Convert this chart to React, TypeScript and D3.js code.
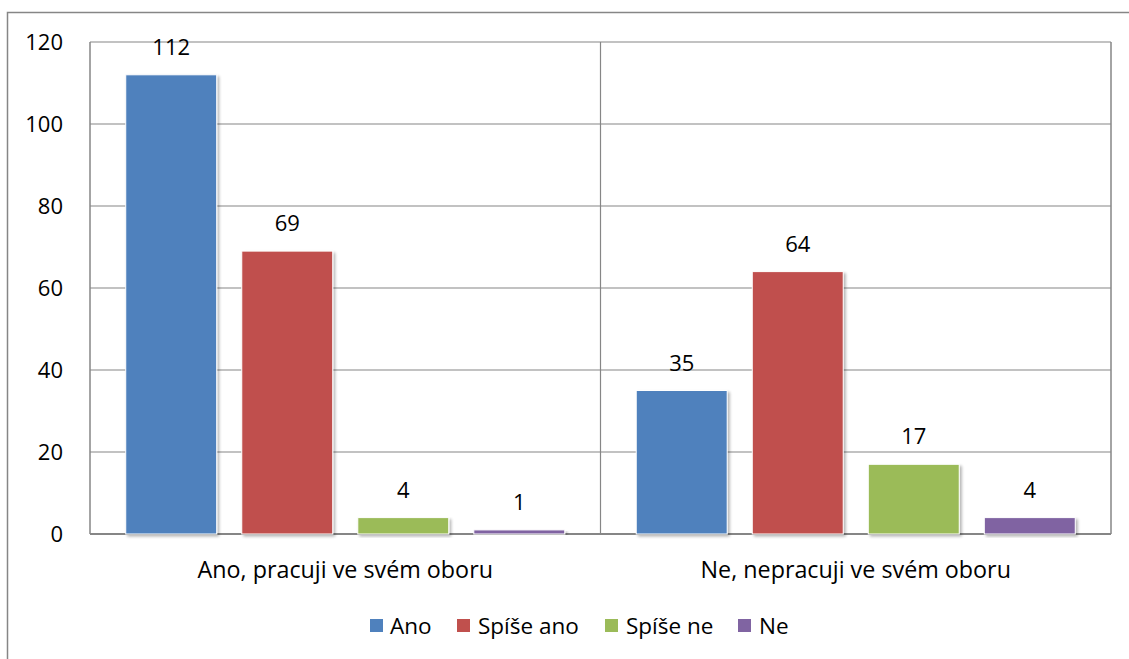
import * as React from 'react';
import { scaleBand, scaleLinear } from 'd3';

const categories = ['Ano, pracuji ve svém oboru', 'Ne, nepracuji ve svém oboru'];
const seriesNames = ['Ano', 'Spíše ano', 'Spíše ne', 'Ne'];
const seriesColors = ['#4F81BD', '#C0504D', '#9BBB59', '#8064A2'];
// values[series][category]
const values = [
    [112, 35],
    [69, 64],
    [4, 17],
    [1, 4],
];
const yTicks = [0, 20, 40, 60, 80, 100, 120];

const W = 1129;
const H = 659;
const margin = { top: 42, right: 18, bottom: 125, left: 90 };
const FONT = '"Open Sans", Lato, sans-serif';
const FS = 22;

export default function App() {
    const plotW = W - margin.left - margin.right;
    const plotH = H - margin.top - margin.bottom;

    const x0 = scaleBand<string>().domain(categories).range([0, plotW]);
    const x1 = scaleBand<string>()
        .domain(seriesNames)
        .range([0, x0.bandwidth()])
        .paddingInner(0.216)
        .paddingOuter(0.308);
    const y = scaleLinear().domain([0, 120]).range([plotH, 0]);

    const legendItems = [
        { x: 370, textX: 390 },
        { x: 457, textX: 478 },
        { x: 605, textX: 626 },
        { x: 738, textX: 759 },
    ];

    return (
        <div style={{ position: 'fixed', left: 0, top: 0 }}>
            <svg width={W} height={H} style={{ display: 'block', background: '#fff' }}>
                <defs>
                    <filter id="shadow" x="-10%" y="-10%" width="130%" height="130%">
                        <feGaussianBlur in="SourceAlpha" stdDeviation="1.5" />
                        <feOffset dx="2" dy="2" result="off" />
                        <feComponentTransfer>
                            <feFuncA type="linear" slope="0.3" />
                        </feComponentTransfer>
                        <feMerge>
                            <feMergeNode />
                            <feMergeNode in="SourceGraphic" />
                        </feMerge>
                    </filter>
                </defs>

                {/* outer chart border (cut off on right/bottom) */}
                <path d={`M7.5,${H} V12.5 H${W}`} fill="none" stroke="#868686" strokeWidth={1.5} />

                <g transform={`translate(${margin.left},${margin.top})`}>
                    {yTicks.map((t) => (
                        <g key={t}>
                            <line x1={0} x2={plotW} y1={y(t)} y2={y(t)} stroke="#868686" strokeWidth={1.2} />
                            <text
                                x={-27}
                                y={y(t)}
                                dy="0.36em"
                                textAnchor="end"
                                fontFamily={FONT}
                                fontSize={FS}
                                fill="#000"
                            >
                                {t}
                            </text>
                        </g>
                    ))}
                    {/* plot frame & category divider */}
                    <line x1={0} x2={0} y1={0} y2={plotH} stroke="#868686" strokeWidth={1.5} />
                    <line x1={plotW} x2={plotW} y1={0} y2={plotH} stroke="#868686" strokeWidth={1.5} />
                    <line x1={x0.bandwidth()} x2={x0.bandwidth()} y1={0} y2={plotH} stroke="#868686" strokeWidth={1.2} />
                    <line x1={0} x2={plotW} y1={plotH} y2={plotH} stroke="#868686" strokeWidth={1.8} />

                    {categories.map((c, ci) => (
                        <g key={c} transform={`translate(${x0(c)},0)`}>
                            {seriesNames.map((s, si) => {
                                const v = values[si][ci];
                                const bx = x1(s) as number;
                                return (
                                    <g key={s}>
                                        <rect
                                            x={bx}
                                            y={y(v)}
                                            width={x1.bandwidth()}
                                            height={plotH - y(v)}
                                            fill={seriesColors[si]}
                                            stroke="#ffffff"
                                            strokeWidth={1}
                                            filter="url(#shadow)"
                                        />
                                        <text
                                            x={bx + x1.bandwidth() / 2}
                                            y={y(v) - 20}
                                            textAnchor="middle"
                                            fontFamily={FONT}
                                            fontSize={FS}
                                            fill="#000"
                                        >
                                            {v}
                                        </text>
                                    </g>
                                );
                            })}
                            <text
                                x={x0.bandwidth() / 2}
                                y={plotH + 44}
                                textAnchor="middle"
                                fontFamily={FONT}
                                fontSize={23.3}
                                fill="#000"
                            >
                                {c}
                            </text>
                        </g>
                    ))}
                </g>

                {/* legend */}
                {seriesNames.map((s, i) => (
                    <g key={s}>
                        <rect x={legendItems[i].x} y={619} width={13} height={13} fill={seriesColors[i]} />
                        <text x={legendItems[i].textX} y={626} dy="0.36em" fontFamily={FONT} fontSize={22.5} fill="#000">
                            {s}
                        </text>
                    </g>
                ))}
            </svg>
        </div>
    );
}
